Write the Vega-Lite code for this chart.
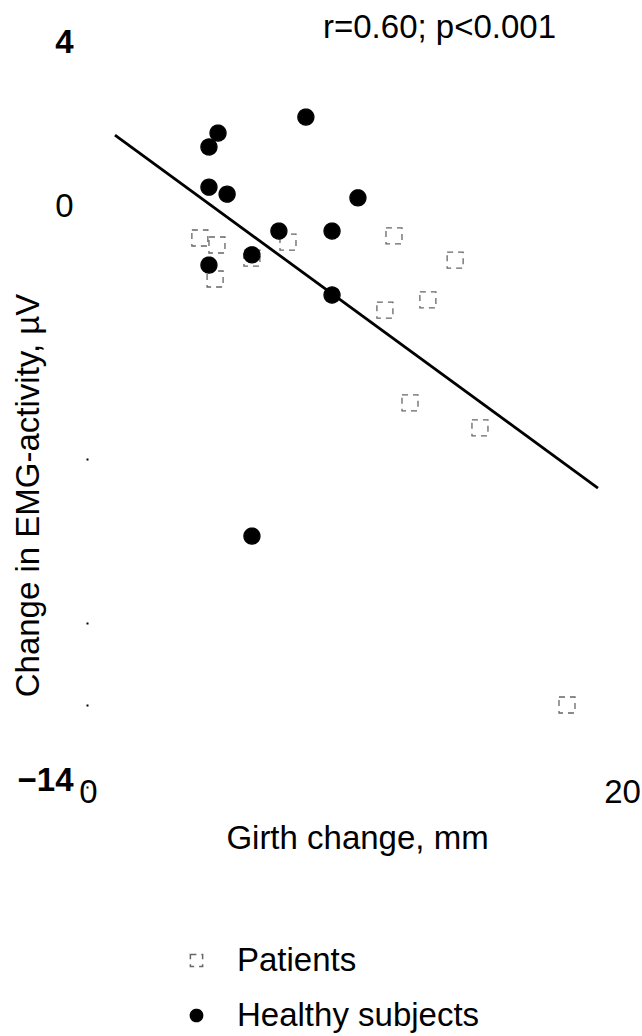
{
  "$schema": "https://vega.github.io/schema/vega-lite/v6.json",
  "width": 534,
  "height": 738,
  "autosize": {"type": "none"},
  "padding": {"left": 88, "top": 49, "right": 20, "bottom": 249},
  "background": "white",
  "config": {"font": "Liberation Sans", "view": {"stroke": null}},
  "title": {
    "text": "r=0.60; p<0.001",
    "anchor": "start",
    "frame": "group",
    "dx": 235,
    "offset": 0,
    "dy": 45,
    "baseline": "alphabetic",
    "fontSize": 33,
    "fontWeight": "normal",
    "color": "black"
  },
  "datasets": {
    "points": [
      {"girth": 4.19, "emg": -0.61, "group": "Patients"},
      {"girth": 4.83, "emg": -0.78, "group": "Patients"},
      {"girth": 4.76, "emg": -1.61, "group": "Patients"},
      {"girth": 6.14, "emg": -1.10, "group": "Patients"},
      {"girth": 7.49, "emg": -0.71, "group": "Patients"},
      {"girth": 11.46, "emg": -0.56, "group": "Patients"},
      {"girth": 13.75, "emg": -1.15, "group": "Patients"},
      {"girth": 12.73, "emg": -2.12, "group": "Patients"},
      {"girth": 11.12, "emg": -2.37, "group": "Patients"},
      {"girth": 12.06, "emg": -4.63, "group": "Patients"},
      {"girth": 14.68, "emg": -5.24, "group": "Patients"},
      {"girth": 17.94, "emg": -12.0, "group": "Patients"},
      {"girth": 8.16, "emg": 2.34, "group": "Healthy subjects"},
      {"girth": 4.87, "emg": 1.95, "group": "Healthy subjects"},
      {"girth": 4.53, "emg": 1.61, "group": "Healthy subjects"},
      {"girth": 4.53, "emg": 0.63, "group": "Healthy subjects"},
      {"girth": 5.21, "emg": 0.46, "group": "Healthy subjects"},
      {"girth": 7.15, "emg": -0.44, "group": "Healthy subjects"},
      {"girth": 4.53, "emg": -1.27, "group": "Healthy subjects"},
      {"girth": 6.14, "emg": -1.02, "group": "Healthy subjects"},
      {"girth": 10.11, "emg": 0.37, "group": "Healthy subjects"},
      {"girth": 9.14, "emg": -0.44, "group": "Healthy subjects"},
      {"girth": 9.14, "emg": -2.0, "group": "Healthy subjects"},
      {"girth": 6.14, "emg": -7.88, "group": "Healthy subjects"}
    ],
    "fit": [
      {"girth": 1.01, "emg": 1.90},
      {"girth": 19.1, "emg": -6.71}
    ]
  },
  "encoding": {
    "x": {
      "field": "girth",
      "type": "quantitative",
      "scale": {"domain": [0, 20], "nice": false, "zero": false},
      "axis": {
        "title": "Girth change, mm",
        "values": [0, 20],
        "domain": false,
        "ticks": false,
        "grid": false,
        "labelFontSize": 33,
        "labelPadding": -11,
        "labelFlush": false,
        "labelColor": "black",
        "titleFontSize": 33,
        "titleFontWeight": "normal",
        "titleColor": "black",
        "titleX": 269,
        "titleY": 61,
        "titleAlign": "center",
        "titleBaseline": "alphabetic"
      }
    },
    "y": {
      "field": "emg",
      "type": "quantitative",
      "scale": {"domain": [-14, 4], "nice": false, "zero": false},
      "axis": {
        "title": "Change in EMG-activity, µV",
        "values": [-14, -12, -10, -6, 0, 4],
        "labelExpr": "indexof([4, 0, -14], datum.value) >= 0 ? datum.label : ''",
        "domain": false,
        "grid": false,
        "tickSize": 2,
        "tickWidth": 2,
        "tickColor": {"condition": {"test": "datum.value == 0 || datum.value == 4", "value": "transparent"}, "value": "black"},
        "labelFontSize": 33,
        "labelFontWeight": {"condition": {"test": "datum.value == 0", "value": "normal"}, "value": "bold"},
        "labelPadding": 13,
        "labelOffset": -7,
        "labelColor": "black",
        "titleFontSize": 33,
        "titleFontWeight": "normal",
        "titleColor": "black",
        "titleAngle": 270,
        "titleX": -60,
        "titleY": 446,
        "titleAlign": "center",
        "titleBaseline": "middle"
      }
    }
  },
  "layer": [
    {
      "data": {"name": "fit"},
      "mark": {"type": "line", "color": "black", "strokeWidth": 2.8}
    },
    {
      "data": {"name": "points"},
      "mark": {"type": "point", "size": 256, "strokeWidth": 1.3, "opacity": 1},
      "encoding": {
        "shape": {
          "field": "group",
          "type": "nominal",
          "scale": {"domain": ["Patients", "Healthy subjects"], "range": ["square", "circle"]},
          "legend": {
            "orient": "none",
            "legendX": 92,
            "legendY": 895,
            "title": null,
            "labelFontSize": 33,
            "labelColor": "black",
            "labelOffset": 24,
            "labelLimit": 0,
            "symbolSize": 150,
            "rowPadding": 21
          }
        },
        "fill": {
          "field": "group",
          "type": "nominal",
          "scale": {"domain": ["Patients", "Healthy subjects"], "range": ["transparent", "black"]}
        },
        "stroke": {
          "field": "group",
          "type": "nominal",
          "scale": {"domain": ["Patients", "Healthy subjects"], "range": ["#666666", "black"]}
        },
        "strokeDash": {
          "field": "group",
          "type": "nominal",
          "scale": {"domain": ["Patients", "Healthy subjects"], "range": [[6, 5], [1, 0]]}
        }
      }
    }
  ]
}
